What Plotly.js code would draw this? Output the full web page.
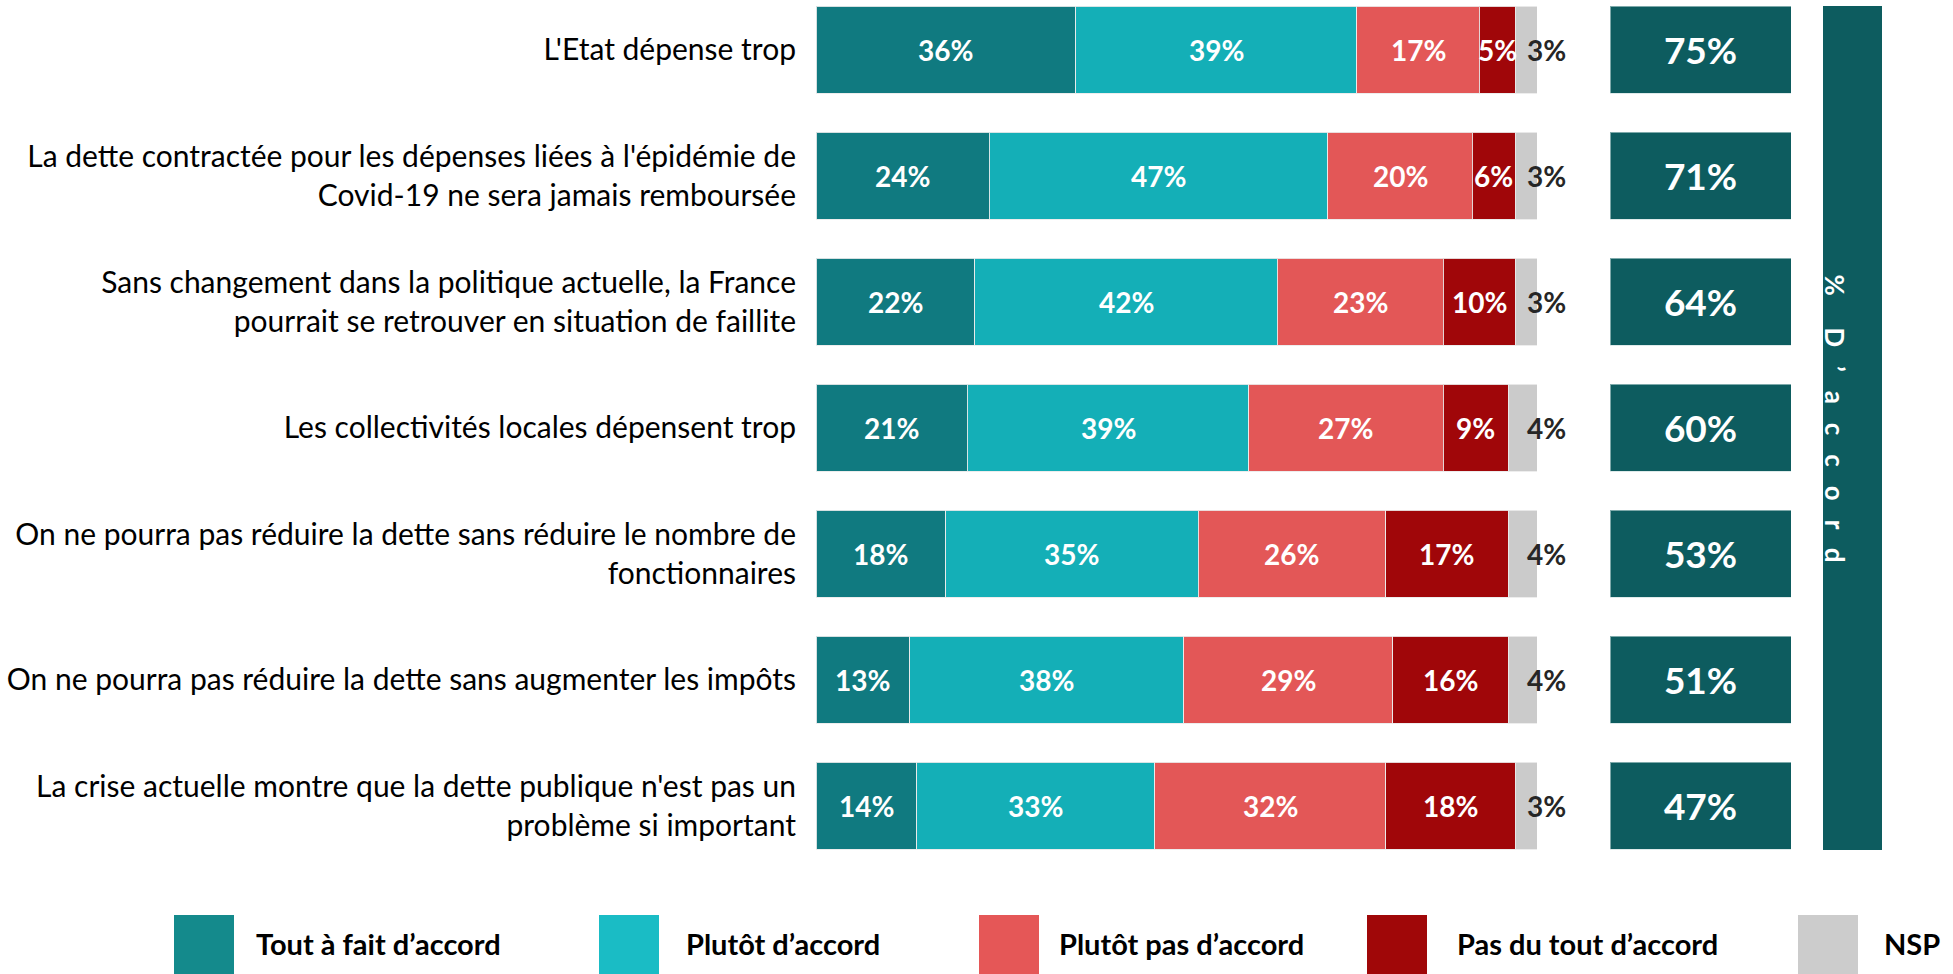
<!DOCTYPE html>
<html>
<head>
<meta charset="utf-8">
<script src="https://cdn.plot.ly/plotly-3.0.1.min.js"></script>
<style>
html,body{margin:0;padding:0;background:#fff;}
#chart{width:1953px;height:974px;}
</style>
</head>
<body>
<div id="chart"></div>
<script>
// ---- DATA ----
const categories = [
  "L'Etat dépense trop",
  "La dette contractée pour les dépenses liées à l'épidémie de<br>Covid-19 ne sera jamais remboursée",
  "Sans changement dans la politique actuelle, la France<br>pourrait se retrouver en situation de faillite",
  "Les collectivités locales dépensent trop",
  "On ne pourra pas réduire la dette sans réduire le nombre de<br>fonctionnaires",
  "On ne pourra pas réduire la dette sans augmenter les impôts",
  "La crise actuelle montre que la dette publique n'est pas un<br>problème si important"
];
const seriesNames = ["Tout à fait d’accord", "Plutôt d’accord", "Plutôt pas d’accord", "Pas du tout d’accord", "NSP"];
const toutAFait   = [36, 24, 22, 21, 18, 13, 14];
const plutot      = [39, 47, 42, 39, 35, 38, 33];
const plutotPas   = [17, 20, 23, 27, 26, 29, 32];
const pasDuTout   = [5, 6, 10, 9, 17, 16, 18];
const nsp         = [3, 3, 3, 4, 4, 4, 3];
const totalAccord = [75, 71, 64, 60, 53, 51, 47];
const bannerText  = "% D’accord";

// ---- STYLE ----
const barColors    = ["#107A80", "#14AFB7", "#E35757", "#A00609", "#CBCBCB"];
const legendColors = ["#148A8C", "#1ABCC5", "#E55757", "#A00708", "#CCCCCC"];
const W = 1953, H = 974;
const labelFont = "Lato, 'Open Sans', sans-serif";

const seriesValues = [toutAFait, plutot, plutotPas, pasDuTout, nsp];
const traces = seriesValues.map((vals, i) => ({
  type: 'bar',
  orientation: 'h',
  name: seriesNames[i],
  y: categories,
  x: vals,
  xaxis: 'x',
  yaxis: 'y',
  marker: {color: barColors[i], line: {color: 'rgba(235,235,235,0.9)', width: 1}},
  textposition: 'none',
  hoverinfo: 'skip',
  showlegend: false
}));

// totals boxes
traces.push({
  type: 'bar',
  orientation: 'h',
  y: categories,
  x: totalAccord.map(() => 1),
  xaxis: 'x2',
  yaxis: 'y',
  marker: {color: '#0D5C5F', line: {color: 'rgba(200,220,220,0.6)', width: 1}},
  text: totalAccord.map(v => v + '%'),
  textposition: 'inside',
  insidetextanchor: 'middle',
  textangle: 0,
  textfont: {family: labelFont, size: 37, color: '#ffffff', weight: 'bold'},
  constraintext: 'none',
  hoverinfo: 'skip',
  showlegend: false
});

// segment labels, positioned from cumulative data
const annotations = [];
categories.forEach((c, k) => {
  let start = 0;
  seriesValues.forEach((vals, i) => {
    const v = vals[k];
    const isNsp = i === seriesValues.length - 1;
    annotations.push({
      x: isNsp ? start + v : start + v / 2,
      y: c,
      xref: 'x', yref: 'y',
      text: '<b>' + v + '%</b>',
      showarrow: false,
      xanchor: 'center',
      xshift: isNsp ? 9 : 0,
      font: {family: labelFont, size: 28, color: isNsp ? '#262626' : '#ffffff'}
    });
    start += v;
  });
});

// banner text
const spaced = bannerText.split('').filter(ch => ch !== ' ').join('\u00A0\u00A0\u00A0').replace('%', '%\u00A0\u00A0');
annotations.push({
  x: (1823 + 1882) / 2 / W, y: 1 - 418 / H,
  xref: 'paper', yref: 'paper',
  text: '<b>' + spaced + '</b>',
  textangle: 90,
  showarrow: false,
  font: {family: labelFont, size: 26, color: '#ffffff'}
});

// legend
const legSquareX = [174, 599, 979, 1367, 1798];
const legTextX   = [254, 684, 1057, 1455, 1882];
const shapes = [{
  type: 'rect', xref: 'paper', yref: 'paper',
  x0: 1823 / W, x1: 1882 / W, y0: 1 - 850 / H, y1: 1 - 6 / H,
  fillcolor: '#0D5C5F', line: {width: 0}, layer: 'below'
}];
seriesNames.forEach((n, i) => {
  shapes.push({
    type: 'rect', xref: 'paper', yref: 'paper',
    x0: legSquareX[i] / W, x1: (legSquareX[i] + 60) / W,
    y0: 0, y1: 1 - 915 / H,
    fillcolor: legendColors[i], line: {width: 0}
  });
  annotations.push({
    x: legTextX[i] / W, y: 1 - 943 / H,
    xref: 'paper', yref: 'paper',
    xanchor: 'left', yanchor: 'middle',
    text: '<b>' + n + '</b>',
    showarrow: false,
    font: {family: labelFont, size: 29, color: '#000000'}
  });
});

const rowTop = 49.8, rowStep = 126;
const layout = {
  width: W, height: H,
  margin: {l: 0, r: 0, t: 0, b: 0},
  paper_bgcolor: '#ffffff', plot_bgcolor: 'rgba(0,0,0,0)',
  barmode: 'stack',
  bargap: 0.31,
  showlegend: false,
  xaxis: {
    domain: [816 / W, 1537 / W], range: [0, 100],
    showgrid: false, zeroline: false, showticklabels: false, showline: false, fixedrange: true
  },
  xaxis2: {
    domain: [1610 / W, 1791 / W], range: [0, 1], anchor: 'y',
    showgrid: false, zeroline: false, showticklabels: false, showline: false, fixedrange: true
  },
  yaxis: {
    domain: [0, 1],
    range: [(H - rowTop) / rowStep, -rowTop / rowStep],
    showgrid: false, zeroline: false, showline: false,
    ticks: '', ticklabelstandoff: 19,
    tickfont: {family: labelFont, size: 30, color: '#000000'},
    fixedrange: true
  },
  shapes: shapes,
  annotations: annotations,
  font: {family: labelFont}
};

Plotly.newPlot('chart', traces, layout, {displayModeBar: false, staticPlot: true});
</script>
</body>
</html>
